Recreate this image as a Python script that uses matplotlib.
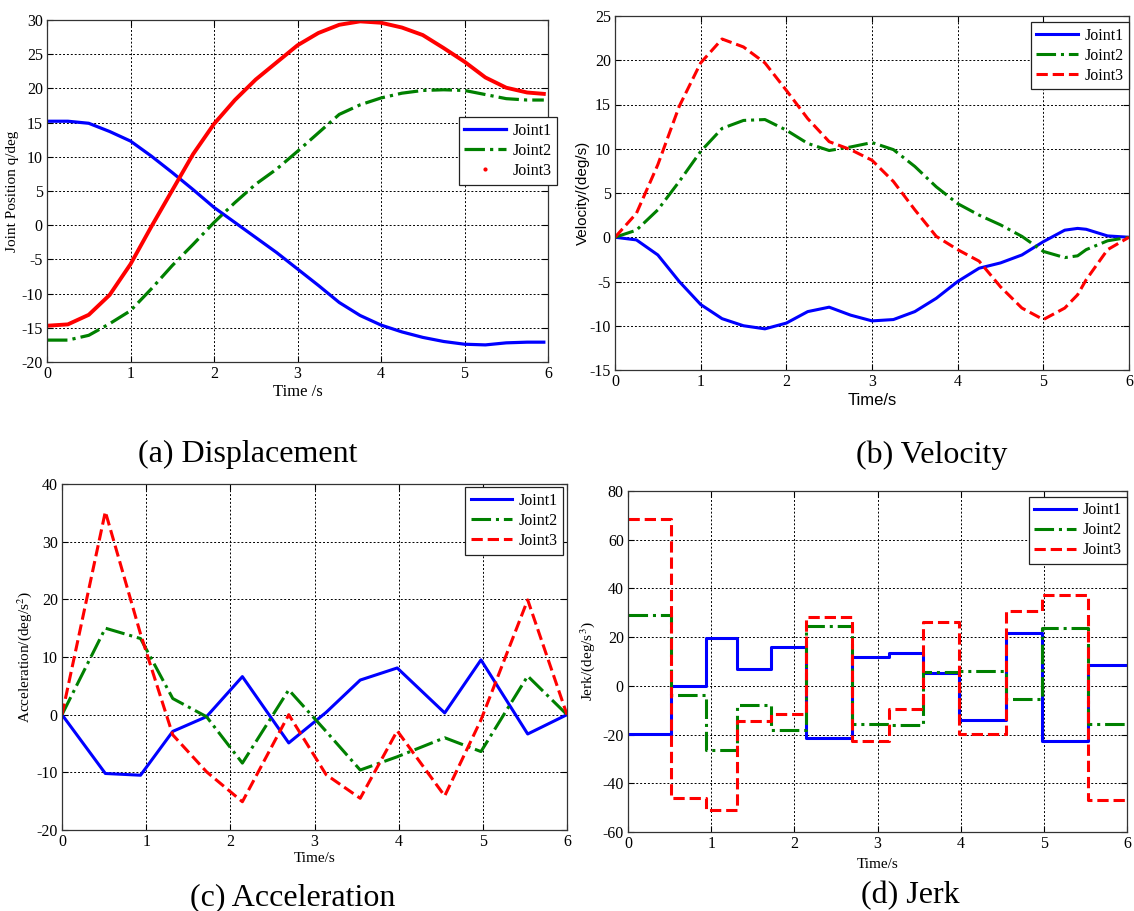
import matplotlib
matplotlib.use("Agg")
import matplotlib.pyplot as plt
from matplotlib.lines import Line2D

plt.rcParams["font.family"] = ["Liberation Serif", "DejaVu Serif"]
plt.rcParams["mathtext.fontset"] = "stix"
plt.rcParams["axes.unicode_minus"] = False

# (a) displacement, read every 0.25 s
t_pos = [0, 0.25, 0.5, 0.75, 1.0, 1.25, 1.5, 1.75, 2.0, 2.25, 2.5, 2.75, 3.0,
         3.25, 3.5, 3.75, 4.0, 4.25, 4.5, 4.75, 5.0, 5.25, 5.5, 5.75, 5.95]
pos_j1 = [15.2, 15.2, 14.9, 13.7, 12.3, 10.1, 7.7, 5.2, 2.6, 0.4, -1.8, -4.0, -6.4,
          -8.8, -11.3, -13.2, -14.6, -15.6, -16.4, -17.0, -17.4, -17.5, -17.2, -17.1, -17.1]
pos_j2 = [-16.8, -16.8, -16.1, -14.4, -12.5, -9.3, -5.9, -2.8, 0.4, 3.3, 6.0, 8.2, 10.8,
          13.5, 16.2, 17.6, 18.6, 19.3, 19.7, 19.8, 19.7, 19.1, 18.5, 18.3, 18.3]
pos_j3 = [-14.7, -14.5, -13.1, -10.2, -5.7, -0.2, 5.1, 10.4, 14.8, 18.3, 21.3, 23.8, 26.3,
          28.1, 29.3, 29.8, 29.6, 28.9, 27.8, 25.9, 23.9, 21.6, 20.1, 19.4, 19.2]

# (b) velocity
t_vel = [0, 0.25, 0.5, 0.75, 1.0, 1.25, 1.5, 1.75, 2.0, 2.25, 2.5, 2.75, 3.0,
         3.25, 3.5, 3.75, 4.0, 4.25, 4.5, 4.75, 5.0, 5.25, 5.4, 5.5, 5.75, 6.0]
vel_j1 = [0, -0.3, -2.0, -5.0, -7.6, -9.2, -10.0, -10.35, -9.7, -8.4, -7.9, -8.8, -9.45,
          -9.3, -8.4, -6.9, -5.0, -3.5, -2.9, -2.0, -0.5, 0.8, 1.0, 0.9, 0.15, 0]
vel_j2 = [0, 0.8, 3.1, 6.3, 9.7, 12.3, 13.2, 13.3, 12.1, 10.6, 9.8, 10.2, 10.7,
          9.9, 8.0, 5.7, 3.8, 2.5, 1.4, 0.1, -1.6, -2.3, -2.1, -1.4, -0.4, 0]
vel_j3 = [0, 2.7, 8.2, 14.8, 19.7, 22.4, 21.5, 19.7, 16.6, 13.4, 10.8, 9.9, 8.7,
          6.3, 3.1, 0.1, -1.4, -2.7, -5.6, -8.0, -9.3, -8.0, -6.5, -4.8, -1.4, 0]

# (c) acceleration at the knots, (d) jerk per segment
t_knot = [0, 0.515, 0.933, 1.316, 1.717, 2.143, 2.694, 3.138, 3.543, 3.983, 4.547, 4.978, 5.533, 6.0]
acc_j1 = [0, -10.2, -10.5, -2.9, -0.35, 6.6, -4.9, 0.4, 6.0, 8.1, 0.3, 9.5, -3.35, 0]
acc_j2 = [0, 15.0, 13.2, 2.8, -0.35, -8.4, 4.3, -2.9, -9.6, -7.3, -4.0, -6.4, 6.7, 0]
acc_j3 = [0, 35.2, 14.0, -3.5, -9.9, -15.1, 0.0, -10.4, -14.5, -2.8, -14.1, -0.9, 19.9, 0]
jerk_j1 = [-19.8, 0.0, 19.7, 6.8, 15.9, -21.6, 12.0, 13.4, 5.2, -13.9, 21.9, -22.8, 8.5]
jerk_j2 = [29.1, -3.8, -26.5, -7.9, -18.3, 24.6, -15.6, -16.0, 5.5, 6.3, -5.5, 23.7, -15.6]
jerk_j3 = [68.6, -46.1, -51.1, -14.5, -11.6, 28.2, -22.6, -9.3, 26.3, -19.7, 30.9, 37.5, -46.8]

W, H = 1134, 911
fig = plt.figure(figsize=(W / 100, H / 100), dpi=100)


def make_ax(l, t, r, b):
    ax = fig.add_axes([l / W, (H - b) / H, (r - l) / W, (b - t) / H])
    ax.grid(True, color="k", linestyle=(0, (2, 2)), linewidth=0.7)
    ax.tick_params(direction="in", length=4, labelsize=11.5, top=True, right=True, pad=3)
    for s in ax.spines.values():
        s.set_color("#333333")
        s.set_linewidth(0.9)
    ax.set_xlim(0, 6)
    ax.set_xticks(range(7))
    return ax


def add_legend(ax, handles, **kw):
    leg = ax.legend(handles=handles, labels=["Joint1", "Joint2", "Joint3"], fontsize=11.5,
                    fancybox=False, edgecolor="#222222", framealpha=1, borderaxespad=0,
                    handlelength=2.6, handletextpad=0.4, labelspacing=0.25, borderpad=0.35, **kw)
    leg.get_frame().set_linewidth(0.9)


blue, green, red = "#0000ff", "#008000", "#ff0000"

# (a)
ax = make_ax(47, 20, 548, 362)
ax.plot(t_pos, pos_j1, color=blue, lw=2.3)
ax.plot(t_pos, pos_j2, color=green, lw=2.3, ls="-.")
ax.plot(t_pos, pos_j3, color=red, lw=2.8)
ax.set_ylim(-20, 30)
ax.set_yticks(range(-20, 31, 5))
ax.set_xlabel("Time /s", fontsize=12, labelpad=1)
ax.set_ylabel("Joint Position q/deg", fontsize=11, labelpad=2)
hs = [Line2D([], [], color=blue, lw=2.3), Line2D([], [], color=green, lw=2.3, ls="-."),
      Line2D([], [], color=red, ls="none", marker=".", markersize=4)]
add_legend(ax, hs, loc="upper left", bbox_to_anchor=(0.822, 0.715))

# (b)
ax = make_ax(615, 16, 1129, 370)
ax.plot(t_vel, vel_j1, color=blue, lw=2.2)
ax.plot(t_vel, vel_j2, color=green, lw=2.2, ls="-.")
ax.plot(t_vel, vel_j3, color=red, lw=2.2, ls="--")
ax.set_ylim(-15, 25)
ax.set_yticks(range(-15, 26, 5))
ax.set_xlabel("Time/s", fontsize=12, family="Liberation Sans", labelpad=2)
ax.set_ylabel("Velocity/(deg/s)", fontsize=11, family="Liberation Sans", labelpad=0)
hs = [Line2D([], [], color=blue, lw=2.2), Line2D([], [], color=green, lw=2.2, ls="-."),
      Line2D([], [], color=red, lw=2.2, ls="--")]
add_legend(ax, hs, loc="upper right", bbox_to_anchor=(1.0, 0.983))

# (c)
ax = make_ax(62, 484, 567, 830)
ax.plot(t_knot, acc_j1, color=blue, lw=2.2)
ax.plot(t_knot, acc_j2, color=green, lw=2.2, ls="-.")
ax.plot(t_knot, acc_j3, color=red, lw=2.2, ls="--")
ax.set_ylim(-20, 40)
ax.set_yticks(range(-20, 41, 10))
ax.set_xlabel("Time/s", fontsize=11, labelpad=1)
ax.set_ylabel("Acceleration/(deg/s$^2$)", fontsize=11, labelpad=2)
add_legend(ax, hs, loc="upper right", bbox_to_anchor=(0.993, 0.99))

# (d)
ax = make_ax(628, 491, 1127, 832)
ax.step(t_knot, jerk_j1 + jerk_j1[-1:], where="post", color=blue, lw=2.2)
ax.step(t_knot, jerk_j2 + jerk_j2[-1:], where="post", color=green, lw=2.2, ls="-.")
ax.step(t_knot, jerk_j3 + jerk_j3[-1:], where="post", color=red, lw=2.2, ls="--")
ax.set_ylim(-60, 80)
ax.set_yticks(range(-60, 81, 20))
ax.set_xlabel("Time/s", fontsize=11, labelpad=4)
ax.set_ylabel("Jerk/(deg/s$^3$)", fontsize=11, labelpad=4)
add_legend(ax, hs, loc="upper right", bbox_to_anchor=(1.0, 0.983))

# captions
for x, y, s in [(248, 462, "(a) Displacement"), (932, 463, "(b) Velocity"),
                (293, 905, "(c) Acceleration"), (910, 903, "(d) Jerk")]:
    fig.text(x / W, 1 - y / H, s, fontsize=23, ha="center", va="baseline")

fig.savefig("out.png", dpi=100)
